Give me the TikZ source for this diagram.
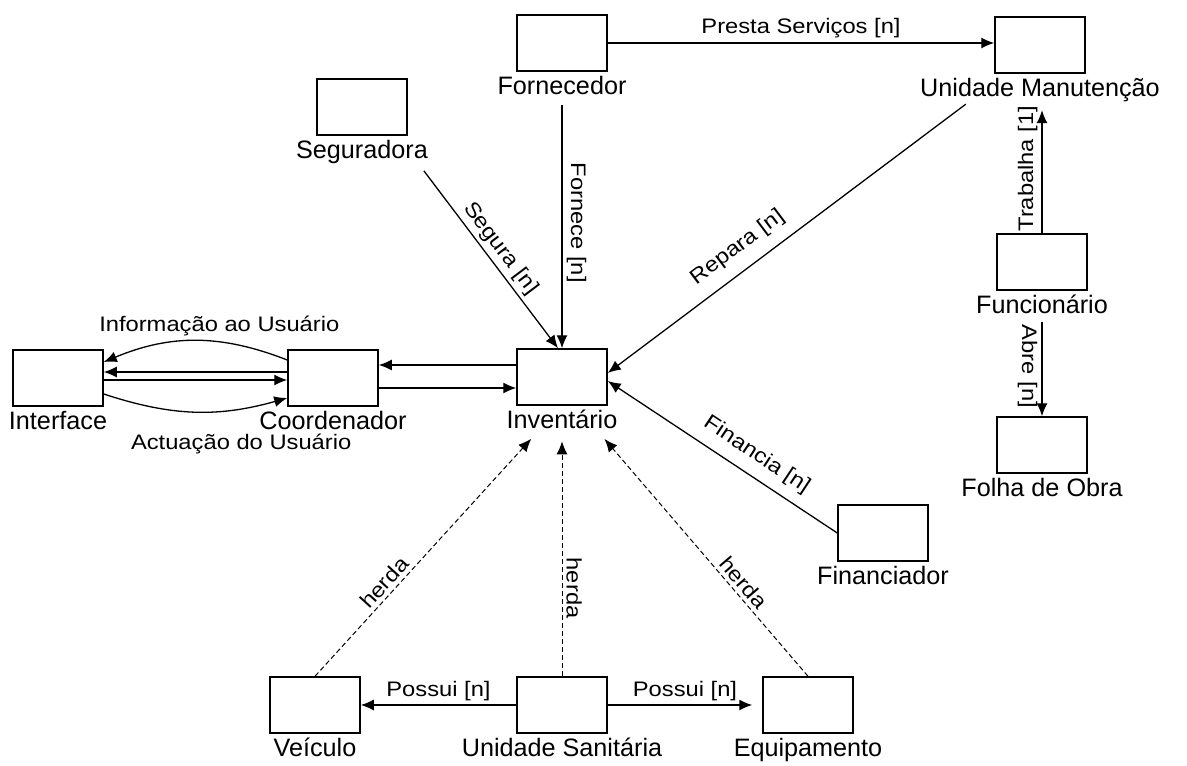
\documentclass[tikz,border=0pt]{standalone}
\usepackage{fontspec}
\setmainfont{Liberation Sans}
\newfontfamily\edgefont{Liberation Sans}[FakeStretch=1.13]
\usepackage{tikz}
\usetikzlibrary{positioning}
\usetikzlibrary{arrows.meta}
\tikzset{ent box/.style={
  draw,
  line width=0.75pt,
  minimum width=45pt,
  minimum height=28pt
  }
}
\tikzset{ent label/.style={
  inner sep=1pt,
  font=\fontsize{12.6}{14}\selectfont
  }
}
\tikzset{rel label/.style={
  inner sep=2pt,
  font=\edgefont\fontsize{10.5}{12}\selectfont
  }
}
\tikzset{my arrow/.style={
  black,
  line width=0.65pt,
  -{Latex[length=6.5pt,width=5.5pt]}
  }
}
\tikzset{herda arrow/.style={
  my arrow,
  line width=0.5pt,
  dash pattern=on 2.5pt off 1.5pt
  }
}

\begin{document}
\begin{tikzpicture}[x=0.5pt,y=-0.5pt]
    \useasboundingbox (0,0) rectangle (1187,765);

    \foreach \nm/\x/\y/\txt in {Forn/562/43/Fornecedor,UM/1040/45/Unidade Manutenção,Seg/362/107/Seguradora,Int/58/378/Interface,Coord/333/378/Coordenador,Inv/562/377/Inventário,Func/1042/262/Funcionário,Folha/1042/445/Folha de Obra,Fin/883/533/Financiador,Veic/315/705/Veículo,US/562/705/Unidade Sanitária,Equip/808/705/Equipamento}
    {
        \node[ent box] (\nm) at (\x,\y) {};
        \node[ent label,below=1pt of \nm] (lbl\nm) {\txt};
    }

    \draw[my arrow] (Forn.east) -- node[rel label,above] {Presta Serviços [n]} (Forn.east -| UM.west);
    \draw[my arrow,shorten <=4pt] (lblForn) -- node[rel label,sloped,above] {Fornece [n]} (Inv);
    \draw[my arrow,shorten <=3pt] ([xshift=-5pt]lblSeg.south east) -- node[rel label,sloped,above] {Segura [n]} ([xshift=-2pt]Inv.north);
    \draw[my arrow] ([xshift=24pt]lblUM.south west) -- node[rel label,sloped,above=4pt,pos=0.6] {Repara [n]} ([yshift=2pt]Inv.east);
    \draw[my arrow] (Fin.west) -- node[rel label,sloped,above=3pt,pos=0.4] {Financia [n]} ([yshift=-2pt]Inv.east);
    \draw[my arrow,shorten >=3pt] (Func.north) -- node[rel label,sloped,above] {Trabalha [1]} (Func.north |- lblUM.south);
    \draw[my arrow,shorten <=3pt] (lblFunc.south) -- node[rel label,sloped,below] {Abre [n]} (Folha.north);

    % Coordenador / Inventario
    \draw[my arrow] ([yshift=6pt]Inv.west) -- ([yshift=6pt]Inv.west -| Coord.east);
    \draw[my arrow] ([yshift=-5pt]Coord.east) -- ([yshift=-5pt]Coord.east -| Inv.west);

    % Interface / Coordenador
    \draw[my arrow] ([yshift=9pt]Coord.west) to[bend right=22] node[rel label,above,xshift=12pt] {Informação ao Usuário} ([yshift=8pt]Int.east);
    \draw[my arrow] ([yshift=3pt]Coord.west) -- ([yshift=3pt]Coord.west -| Int.east);
    \draw[my arrow] ([yshift=-1pt]Int.east) -- ([yshift=-1pt]Int.east -| Coord.west);
    \draw[my arrow] ([yshift=-8pt]Int.east) to[bend right=17] node[rel label,below=9pt,xshift=23pt] {Actuação do Usuário} ([yshift=-10pt]Coord.west);

    % herda
    \draw[herda arrow,shorten >=5pt] (Veic.north) -- node[rel label,sloped,above,pos=0.35] {herda} ([xshift=-12pt]lblInv.south);
    \draw[herda arrow,shorten >=5pt] (US.north) -- node[rel label,rotate=-90,anchor=south,pos=0.36] {herda} (lblInv.south);
    \draw[herda arrow,shorten >=5pt] (Equip.north) -- node[rel label,sloped,above,pos=0.35] {herda} ([xshift=18pt]lblInv.south);

    \draw[my arrow] (US.west) -- node[rel label,above] {Possui [n]} (Veic.east);
    \draw[my arrow,shorten >=5pt] (US.east) -- node[rel label,above] {Possui [n]} (Equip.west);
\end{tikzpicture}
\end{document}
